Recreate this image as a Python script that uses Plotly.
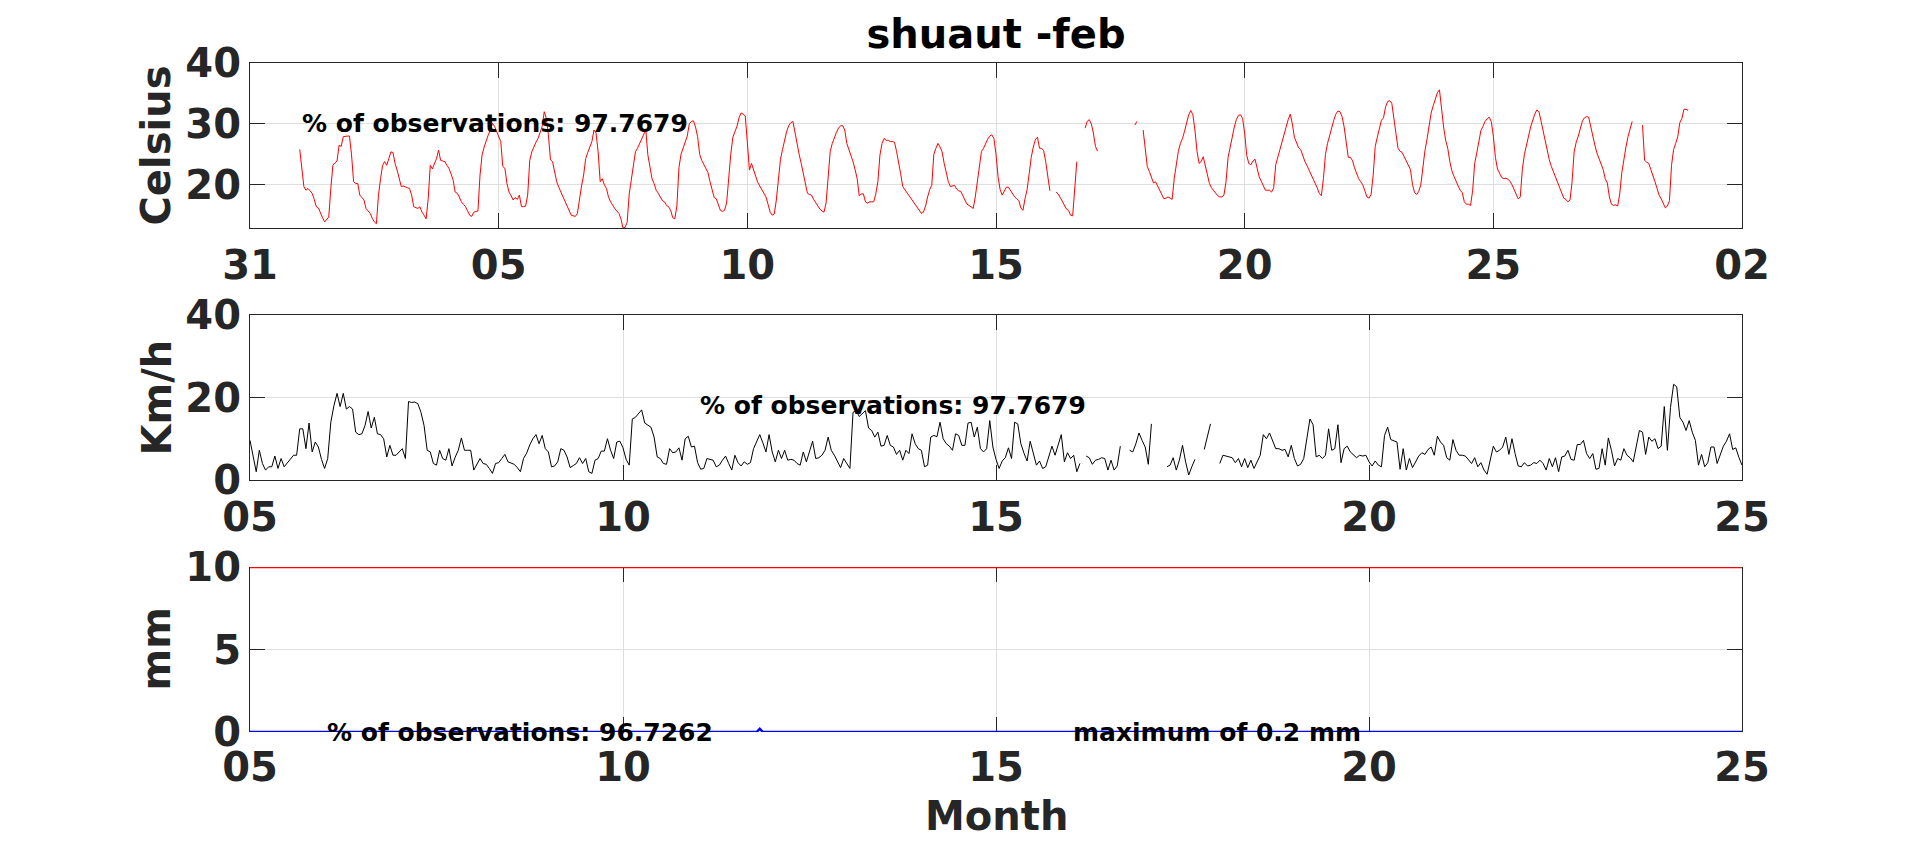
import pandas as pd
import plotly.graph_objects as go
from plotly.subplots import make_subplots

title_text = "shuaut -feb"

# hourly air temperature from 1 Feb 00:00 (Celsius), one row per day
temp_start = "2023-02-01"
temp_c = [
    25.8, 22.5, 19.7, 19.1, 19.4, 19.0, 18.6, 17.6, 16.4, 16.2, 15.3, 14.6, 13.9, 14.4, 14.7, 19.4, 23.2, 23.6, 23.9, 26.5, 26.3, 27.9, 28.0, 28.0,
    28.0, 24.9, 20.5, 20.2, 20.2, 18.3, 17.9, 17.5, 16.1, 15.7, 15.3, 14.5, 13.9, 13.6, 18.3, 21.0, 23.2, 23.8, 23.2, 24.3, 25.4, 25.3, 23.5, 22.4,
    21.0, 19.7, 19.8, 19.6, 19.5, 19.4, 18.3, 16.4, 16.3, 16.1, 16.4, 15.5, 15.0, 14.4, 17.7, 23.2, 22.6, 23.5, 24.3, 25.7, 24.0, 23.9, 23.8, 23.2,
    22.7, 21.8, 20.8, 18.8, 18.6, 18.0, 17.2, 16.8, 16.4, 15.7, 15.0, 14.8, 15.5, 15.6, 15.7, 21.6, 24.9, 26.2, 27.4, 28.2, 29.0, 30.1, 29.6, 28.7,
    28.0, 27.1, 23.0, 22.7, 20.2, 18.8, 18.2, 17.5, 17.9, 17.6, 18.3, 16.4, 16.4, 16.5, 18.3, 24.0, 25.4, 26.3, 27.0, 27.6, 28.6, 29.6, 32.0, 30.9,
    28.2, 24.1, 23.8, 22.0, 20.5, 19.6, 18.8, 18.0, 17.2, 16.5, 15.8, 15.0, 14.9, 14.8, 15.3, 17.7, 19.8, 21.6, 24.3, 25.3, 26.3, 27.1, 29.0, 28.5,
    25.4, 20.5, 21.0, 20.0, 19.4, 18.0, 17.2, 16.6, 16.1, 15.7, 15.3, 14.4, 12.9, 13.0, 13.8, 18.5, 21.0, 22.7, 25.4, 26.0, 26.8, 27.6, 28.5, 29.0,
    24.9, 22.8, 21.0, 20.2, 19.1, 18.6, 17.9, 17.4, 17.2, 16.6, 16.4, 15.8, 14.6, 14.4, 16.5, 22.8, 25.0, 26.0, 27.0, 28.0, 30.0, 30.4, 30.5, 29.5,
    27.9, 25.0, 24.0, 23.3, 22.7, 22.0, 20.5, 19.3, 17.9, 17.7, 16.8, 15.8, 15.6, 15.8, 17.0, 21.5, 25.0, 27.8, 28.7, 29.6, 31.0, 31.8, 31.6, 31.3,
    27.0, 22.4, 23.5, 22.4, 21.3, 20.4, 19.8, 19.2, 18.5, 18.0, 16.8, 15.5, 15.0, 15.2, 17.5, 20.5, 24.2, 25.8, 27.5, 28.8, 29.7, 30.2, 30.4, 28.5,
    27.0, 25.0, 23.5, 22.0, 20.5, 18.6, 18.4, 18.3, 17.6, 17.0, 16.5, 16.0, 15.7, 15.5, 17.0, 22.0, 25.5, 26.8, 27.8, 28.6, 29.3, 29.7, 29.7, 29.0,
    26.8, 25.8, 25.1, 23.8, 22.5, 21.0, 18.2, 18.5, 18.5, 17.2, 17.0, 17.2, 17.2, 17.2, 18.5, 20.5, 24.9, 26.8, 27.6, 27.3, 27.3, 27.1, 27.1, 27.0,
    25.5, 23.8, 21.8, 19.7, 19.2, 18.8, 18.3, 17.7, 17.2, 16.8, 16.4, 15.9, 15.3, 15.5, 16.5, 18.0, 19.2, 19.9, 25.0, 26.0, 26.8, 26.2, 25.4, 23.5,
    22.0, 20.5, 19.7, 19.8, 19.9, 19.3, 19.0, 18.9, 18.2, 17.3, 16.8, 16.6, 16.4, 16.1, 18.0, 20.8, 23.5, 25.5, 26.0, 26.8, 27.5, 28.0, 28.2, 27.6,
    25.0, 21.3, 19.2, 18.3, 18.9, 19.6, 19.6, 19.0, 18.5, 18.0, 17.7, 17.4, 16.2, 15.8, 17.7, 19.2, 21.8, 24.5, 26.2, 27.4, 27.8, 26.0, 26.0, 25.6,
    23.8, 21.0, 19.0, None, None, 18.8, 18.5, 17.9, 17.2, 16.5, 16.0, 15.8, 15.0, 14.9, 19.5, 23.8, None, None, None, 29.3, 30.4, 30.7, 30.0, 28.5,
    26.3, 25.5, None, None, None, None, None, None, None, None, None, None, None, None, None, None, None, None, None, 29.8, 30.4, None, None, 29.0,
    26.0, 23.0, 22.2, 21.2, 20.3, 20.5, 19.8, 19.2, 18.4, 17.7, 17.8, 18.0, 17.8, 17.6, 21.0, 23.5, 25.5, 26.8, 27.6, 28.8, 30.0, 31.5, 32.2, 31.5,
    29.0, 25.5, 23.5, 23.8, 24.6, 23.0, 21.5, 20.2, 19.5, 19.0, 18.7, 18.2, 18.0, 18.0, 18.3, 20.5, 24.5, 26.5, 27.8, 29.5, 30.7, 31.4, 31.5, 30.9,
    28.5, 24.8, 23.5, 23.3, 23.9, 24.2, 22.5, 21.3, 20.6, 19.8, 19.1, 19.1, 19.1, 18.8, 19.5, 23.3, 24.5, 25.8, 27.3, 28.3, 29.6, 30.7, 31.6, 30.0,
    27.8, 26.8, 26.1, 25.8, 24.8, 23.9, 23.2, 22.5, 21.8, 21.0, 20.2, 19.5, 18.6, 18.2, 21.0, 25.0, 26.8, 28.2, 29.3, 30.6, 31.6, 32.1, 32.0, 31.2,
    29.5, 26.5, 24.5, 24.5, 24.0, 22.8, 21.7, 21.0, 20.5, 20.0, 19.0, 18.0, 17.8, 18.4, 21.5, 26.3, 27.8, 29.3, 30.6, 31.0, 32.8, 33.7, 33.8, 33.4,
    31.0, 28.2, 26.0, 25.5, 25.3, 24.6, 23.9, 23.2, 22.5, 20.0, 18.7, 18.4, 18.9, 20.0, 23.0, 25.6, 27.5, 29.8, 31.8, 33.0, 33.9, 35.1, 35.6, 32.0,
    29.5, 27.3, 26.0, 23.8, 22.3, 21.4, 20.5, 19.8, 19.1, 18.7, 17.2, 16.8, 16.8, 16.6, 19.0, 23.5, 25.2, 27.3, 28.9, 29.6, 30.4, 30.8, 31.1, 30.4,
    28.0, 24.5, 22.6, 21.9, 21.2, 21.0, 21.1, 20.9, 20.6, 20.0, 19.2, 18.3, 17.7, 18.0, 22.5, 25.0, 26.8, 28.0, 29.5, 30.7, 31.6, 32.3, 32.0, 30.5,
    28.9, 27.2, 25.5, 24.1, 23.0, 22.1, 21.3, 20.5, 19.6, 18.5, 17.8, 17.6, 17.2, 17.5, 20.5, 25.4, 27.0, 28.0, 29.3, 30.5, 31.0, 31.2, 31.1, 29.5,
    27.8, 26.5, 25.2, 24.4, 23.3, 22.5, 21.0, 20.3, 18.0, 16.8, 16.6, 16.7, 16.5, 18.5, 22.0, 24.5, 26.2, 27.9, 29.3, 30.4, None, None, None, None,
    29.8, 24.0, 23.7, 23.5, 22.5, 21.6, 20.5, 19.4, 18.3, 17.7, 16.8, 16.2, 16.5, 17.4, 23.2, 25.8, 26.8, 27.9, 30.2, 30.9, 32.4, 32.4, 32.2, None,
]

# hourly wind speed from 5 Feb 00:00 (Km/h), one row per day
wind_start = "2023-02-05"
wind_kmh = [
    9.6, 5.5, 2.0, 7.2, 4.0, 2.4, 3.2, 3.2, 5.8, 2.8, 5.2, 3.2, 4.2, 5.0, 6.0, 6.0, 12.4, 12.4, 7.6, 13.8, 6.8, 9.2, 8.0, 5.0,
    2.8, 5.2, 14.0, 18.0, 21.0, 17.8, 21.0, 17.2, 17.8, 17.2, 11.6, 11.0, 11.2, 13.2, 16.6, 12.6, 15.2, 11.2, 11.0, 10.0, 5.6, 8.4, 6.0, 6.0,
    6.8, 7.6, 5.2, 19.0, 18.8, 18.9, 18.5, 16.4, 13.2, 7.2, 6.8, 4.0, 3.6, 7.2, 5.2, 4.8, 7.6, 3.4, 5.5, 7.2, 10.2, 7.2, 7.2, 7.2,
    2.4, 4.0, 5.2, 4.0, 3.8, 2.8, 1.6, 4.0, 4.2, 5.2, 6.2, 4.4, 4.0, 3.8, 3.0, 2.0, 5.2, 6.5, 8.5, 10.0, 11.0, 8.8, 10.8, 7.6,
    6.8, 3.2, 3.4, 4.4, 7.6, 7.2, 5.6, 3.0, 3.5, 4.0, 5.4, 4.0, 5.2, 2.0, 1.6, 4.8, 5.2, 7.0, 7.0, 10.0, 7.2, 5.2, 9.2, 9.4,
    7.8, 5.0, 3.6, 14.8, 15.2, 16.0, 17.0, 13.8, 13.2, 12.8, 10.4, 5.6, 5.2, 4.0, 3.8, 7.6, 6.6, 6.8, 7.8, 4.8, 10.0, 10.6, 8.0, 8.2,
    4.2, 2.6, 2.8, 5.2, 5.0, 4.8, 3.2, 3.6, 4.8, 5.8, 4.0, 2.4, 6.0, 4.2, 3.4, 4.4, 3.8, 4.2, 7.6, 9.4, 11.0, 9.0, 6.8, 11.0,
    6.8, 4.4, 7.2, 5.2, 7.2, 4.8, 5.0, 4.8, 4.0, 3.6, 6.8, 4.4, 7.2, 9.4, 5.2, 5.4, 6.0, 7.2, 10.4, 7.2, 6.0, 4.5, 3.0, 5.2,
    4.0, 2.8, 16.4, 16.8, 15.4, 16.0, 16.8, 12.6, 12.0, 10.4, 11.6, 8.2, 8.4, 10.8, 8.4, 8.0, 6.2, 7.2, 4.8, 7.2, 6.4, 11.2, 8.8, 7.6,
    7.2, 3.2, 3.6, 10.4, 10.8, 10.5, 14.0, 10.0, 8.8, 8.2, 7.2, 11.2, 10.8, 8.4, 8.4, 13.8, 14.0, 10.4, 12.8, 7.6, 6.8, 7.6, 14.4, 8.0,
    5.0, 2.8, 4.6, 5.4, 7.8, 5.2, 14.0, 13.6, 8.8, 6.5, 4.6, 9.4, 6.8, 3.6, 4.6, 2.8, 3.2, 6.0, 8.2, 6.0, 8.5, 11.0, 4.4, 6.6,
    5.2, 6.0, 2.0, 4.0, None, 5.8, 5.4, 3.8, 4.8, 5.0, 5.4, 5.2, 2.4, 4.8, 2.4, 3.4, 8.2, None, None, 7.2, 6.8, 8.8, 11.4, 9.6,
    8.0, 3.8, 13.6, None, None, None, None, 3.2, 3.6, 5.4, 2.4, 4.8, 8.4, 4.4, 1.2, 3.2, 5.0, None, None, 7.4, 10.4, 13.6, None, None,
    4.0, 6.0, 5.8, 5.6, 5.4, 4.2, 5.2, 3.2, 5.2, 3.0, 4.8, 2.8, 4.4, 6.0, 11.0, 10.0, 11.4, 9.6, 7.6, 7.6, 7.2, 7.4, 5.6, 8.4,
    5.2, 3.4, 3.8, 5.2, 10.4, 14.8, 13.4, 5.6, 6.0, 5.2, 6.0, 12.4, 7.2, 7.6, 13.4, 4.2, 7.6, 8.2, 6.8, 6.0, 5.4, 6.0, 5.8, 6.0,
    4.4, 3.4, 4.6, 3.6, 3.2, 10.8, 12.8, 9.8, 9.4, 9.2, 2.6, 7.6, 2.4, 5.2, 3.0, 4.4, 5.8, 6.6, 6.2, 7.4, 8.0, 6.0, 10.6, 9.2,
    8.4, 5.4, 4.8, 9.8, 7.2, 6.0, 6.0, 5.8, 5.0, 4.0, 5.4, 3.2, 4.2, 2.4, 1.4, 4.8, 8.2, 6.8, 7.2, 8.0, 10.4, 6.2, 10.0, 6.4,
    3.4, 3.2, 4.2, 3.4, 3.6, 4.2, 4.0, 4.8, 4.0, 2.4, 5.2, 3.2, 5.4, 2.0, 5.6, 5.8, 7.2, 5.0, 4.8, 8.6, 8.6, 9.6, 6.4, 5.2,
    6.4, 2.6, 2.8, 7.6, 3.6, 10.2, 7.2, 3.4, 5.2, 4.8, 7.6, 6.0, 5.4, 4.4, 8.2, 12.0, 11.6, 6.2, 10.4, 9.4, 10.0, 7.6, 8.2, 17.8,
    7.2, 17.6, 23.2, 22.6, 15.2, 14.0, 12.0, 14.4, 11.6, 9.6, 3.6, 6.2, 3.2, 4.2, 8.0, 8.0, 4.0, 6.4, 8.2, 9.4, 11.2, 7.4, 7.8, 5.5,
    3.6,
]

# rain (mm): hours after 5 Feb 00:00 where the series changes
rain_start = "2023-02-05"
rain_hour = [0, 163, 164, 165, 480]
rain_mm = [0, 0, 0.2, 0, 0]
rain_limit_mm = 10

temp_obs_pct = 97.7679
wind_obs_pct = 97.7679
rain_obs_pct = 96.7262
rain_max_mm = 0.2

temp_time = pd.date_range(temp_start, periods=len(temp_c), freq="h")
wind_time = pd.date_range(wind_start, periods=len(wind_kmh), freq="h")
rain_time = pd.Timestamp(rain_start) + pd.to_timedelta(rain_hour, unit="h")

top_ticks = pd.to_datetime(["2023-01-31", "2023-02-05", "2023-02-10", "2023-02-15",
                            "2023-02-20", "2023-02-25", "2023-03-02"])
low_ticks = pd.to_datetime(["2023-02-05", "2023-02-10", "2023-02-15", "2023-02-20", "2023-02-25"])

INK = "#262626"
GRID = "#dfdfdf"
FONT = "DejaVu Sans"

fig = make_subplots(rows=3, cols=1)

fig.add_trace(go.Scatter(x=temp_time, y=temp_c, mode="lines",
                         line=dict(color="red", width=1)), row=1, col=1)
fig.add_trace(go.Scatter(x=wind_time, y=wind_kmh, mode="lines",
                         line=dict(color="black", width=1)), row=2, col=1)
# threshold line across the whole rain window
fig.add_trace(go.Scatter(x=[low_ticks[0], low_ticks[-1]], y=[rain_limit_mm, rain_limit_mm],
                         mode="lines", line=dict(color="red", width=2.5)), row=3, col=1)
fig.add_trace(go.Scatter(x=rain_time, y=rain_mm, mode="lines",
                         line=dict(color="blue", width=2.5)), row=3, col=1)

axis_style = dict(showline=True, mirror="ticks", linecolor=INK, linewidth=1,
                  ticks="inside", ticklen=15, tickcolor=INK, tickwidth=1,
                  showgrid=True, gridcolor=GRID, gridwidth=1, zeroline=False,
                  tickfont=dict(family=FONT, size=40, color=INK, weight="bold"))
fig.update_xaxes(**axis_style, tickformat="%d", ticklabelstandoff=2)
fig.update_yaxes(**axis_style)

fig.update_xaxes(range=[top_ticks[0], top_ticks[-1]], tickvals=top_ticks, row=1, col=1)
fig.update_xaxes(range=[low_ticks[0], low_ticks[-1]], tickvals=low_ticks, row=2, col=1)
# in the rain panel the red limit and blue series form the top/bottom border
fig.update_xaxes(range=[low_ticks[0], low_ticks[-1]], tickvals=low_ticks, row=3, col=1,
                 showline=False, layer="below traces", ticklabelstandoff=8)

fig.update_yaxes(range=[12.9, 40], tickvals=[20, 30, 40], domain=[0.7534, 1.0], row=1, col=1)
fig.update_yaxes(range=[0, 40], tickvals=[0, 20, 40], domain=[0.3767, 0.6233], row=2, col=1)
fig.update_yaxes(range=[0, 10], tickvals=[0, 5, 10], domain=[0.0, 0.2466], row=3, col=1,
                 layer="below traces")

note_font = dict(family=FONT, size=25, color="black", weight="bold")
fig.add_annotation(x="2023-02-01", y=30, xref="x", yref="y", showarrow=False,
                   xanchor="left", yanchor="middle", font=note_font,
                   text=f"% of observations: {temp_obs_pct}")
fig.add_annotation(x="2023-02-11", y=18, xref="x2", yref="y2", showarrow=False,
                   xanchor="left", yanchor="middle", font=note_font,
                   text=f"% of observations: {wind_obs_pct}")
fig.add_annotation(x="2023-02-06", y=0, xref="x3", yref="y3", showarrow=False,
                   xanchor="left", yanchor="middle", font=note_font,
                   text=f"% of observations: {rain_obs_pct}")
fig.add_annotation(x="2023-02-16", y=0, xref="x3", yref="y3", showarrow=False,
                   xanchor="left", yanchor="middle", font=note_font,
                   text=f"maximum of {rain_max_mm} mm")

label_font = dict(family=FONT, size=40, color=INK, weight="bold")
for label, mid in [("Celsius", 0.8767), ("Km/h", 0.5), ("mm", 0.1233)]:
    fig.add_annotation(x=-0.063, y=mid, xref="paper", yref="paper", showarrow=False,
                       textangle=-90, xanchor="center", yanchor="middle",
                       font=label_font, text=label)
fig.add_annotation(x=0.5, y=-0.1256, xref="paper", yref="paper", showarrow=False,
                   xanchor="center", yanchor="middle", font=label_font, text="Month")

fig.update_layout(
    width=1923, height=841,
    margin=dict(l=250, r=181, t=63, b=109),
    paper_bgcolor="white", plot_bgcolor="white",
    showlegend=False,
    title=dict(text=title_text, x=0.5, xref="paper", xanchor="center",
               y=1 - 34 / 841, yref="container", yanchor="middle",
               font=dict(family=FONT, size=40, color="black", weight="bold")),
)

# the page body has a default 8px margin; drop it so the figure sits at the corner
fig.write_html("out.html", config={"displayModeBar": False},
               post_script="document.body.style.margin='0';document.body.style.overflow='hidden';")
